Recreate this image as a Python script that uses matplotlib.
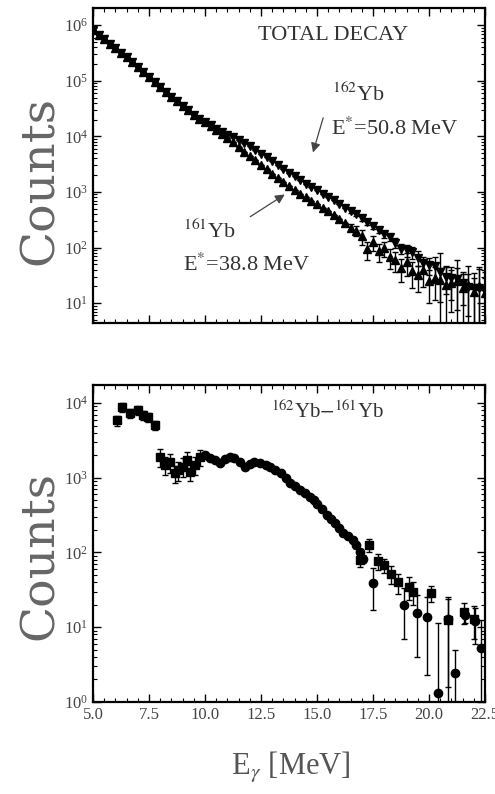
import numpy as np
import matplotlib.pyplot as plt
from matplotlib.ticker import (LogLocator, LogFormatterMathtext, MultipleLocator,
                               NullFormatter, FormatStrFormatter)

plt.rcParams['font.family'] = 'serif'
plt.rcParams['font.serif'] = ['Liberation Serif', 'DejaVu Serif']
plt.rcParams['mathtext.fontset'] = 'stix'

# ---- top panel: total decay spectra (log10 counts) ----
energy_top = [5.00, 5.25, 5.50, 5.75, 6.00, 6.25, 6.50, 6.75, 7.00, 7.25,
              7.50, 7.75, 8.00, 8.25, 8.50, 8.75, 9.00, 9.25, 9.50, 9.75,
              10.00, 10.25, 10.50, 10.75, 11.00, 11.25, 11.50, 11.75, 12.00, 12.25,
              12.50, 12.75, 13.00, 13.25, 13.50, 13.75, 14.00, 14.25, 14.50, 14.75,
              15.00, 15.25, 15.50, 15.75, 16.00, 16.25, 16.50, 16.75, 17.00, 17.25,
              17.50, 17.75, 18.00, 18.25, 18.50, 18.75, 19.00, 19.25, 19.50, 19.75,
              20.00, 20.25, 20.50, 20.75, 21.00, 21.25, 21.50, 21.75, 22.00, 22.25, 22.50]

log_162 = [5.91, 5.83, 5.75, 5.67, 5.59, 5.50, 5.42, 5.33, 5.24, 5.15,
           5.06, 4.97, 4.88, 4.79, 4.71, 4.63, 4.55, 4.47, 4.39, 4.32,
           4.26, 4.20, 4.14, 4.08, 4.03, 3.98, 3.93, 3.88, 3.82, 3.76,
           3.69, 3.62, 3.55, 3.48, 3.41, 3.34, 3.28, 3.21, 3.15, 3.09,
           3.03, 2.97, 2.91, 2.85, 2.79, 2.72, 2.66, 2.60, 2.53, 2.46,
           2.39, 2.31, 2.24, 2.19, 2.09, 1.98, 1.95, 1.92, 1.82, 1.72,
           1.69, 1.66, 1.56, 1.47, 1.45, 1.43, 1.36, 1.29, 1.28, 1.28, 1.22]

log_161 = [5.91, 5.83, 5.75, 5.67, 5.59, 5.50, 5.42, 5.33, 5.24, 5.15,
           5.06, 4.97, 4.88, 4.79, 4.71, 4.63, 4.55, 4.47, 4.39, 4.32,
           4.25, 4.18, 4.11, 4.04, 3.97, 3.90, 3.80, 3.72, 3.64, 3.57,
           3.49, 3.41, 3.33, 3.25, 3.18, 3.11, 3.04, 2.97, 2.91, 2.84,
           2.78, 2.71, 2.65, 2.58, 2.52, 2.44, 2.36, 2.30, 2.20, 1.97,
           2.10, 1.93, 1.99, 1.83, 1.78, 1.64, 1.74, 1.57, 1.50, 1.60,
           1.40, 1.45, 1.42, 1.33, 1.36, 1.40, 1.27, 1.33, 1.20, 1.30, 1.18]

relerr_162 = [0.0] * 46 + [0.08, 0.08, 0.10, 0.10, 0.12, 0.12, 0.15, 0.15, 0.20, 0.20,
                           0.25, 0.25, 0.30, 0.30, 0.35, 0.50, 1.20, 0.50, 0.60, 1.20,
                           0.60, 0.70, 0.80, 1.20, 1.20]
relerr_161 = [0.0] * 46 + [0.15, 0.20, 0.30, 0.35, 0.30, 0.35, 0.30, 0.40, 0.40, 0.45,
                           0.45, 0.50, 0.50, 0.50, 0.60, 0.60, 0.60, 1.20, 0.70, 0.70,
                           0.80, 1.20, 0.80, 1.20, 0.90]

# ---- bottom panel: 162Yb - 161Yb difference ----
sq_energy = [6.07, 6.30, 6.65, 7.00, 7.23, 7.46, 7.77,
             8.00, 8.20, 8.43, 8.66, 8.80, 9.00, 9.20, 9.33, 9.55, 9.78,
             16.90, 17.30, 17.70, 18.00, 18.30, 18.60, 19.10, 19.30, 20.10, 20.85, 21.55, 22.00]
sq_counts = [5900, 8900, 7400, 8100, 6900, 6500, 5100,
             1900, 1480, 1620, 1150, 1260, 1410, 1740, 1200, 1480, 1900,
             79, 126, 76, 68, 52, 40, 35, 30, 29, 12.6, 16, 13]
sq_err = [900, 1200, 1000, 1100, 900, 900, 700,
          500, 400, 450, 300, 350, 400, 450, 300, 400, 450,
          15, 25, 18, 15, 14, 12, 12, 10, 7, 11, 5, 6]

ci_energy = [10.00, 10.20, 10.45, 10.67, 10.90, 11.10, 11.30, 11.56, 11.80, 12.00,
             12.20, 12.45, 12.70, 12.90, 13.10, 13.40, 13.60, 13.80, 14.00, 14.24,
             14.45, 14.70, 14.85, 15.00, 15.20, 15.45, 15.60, 15.80, 16.00, 16.16,
             16.40, 16.60, 16.75, 16.90, 17.05,
             17.50, 18.90, 19.45, 19.90, 20.40, 20.85, 21.15, 21.60, 22.05, 22.30]
ci_counts = [2000, 1820, 1740, 1580, 1780, 1900, 1860, 1620, 1380, 1550,
             1620, 1580, 1480, 1380, 1260, 1150, 1000, 850, 780, 690,
             620, 550, 500, 440, 380, 316, 280, 245, 210, 182,
             166, 148, 126, 100, 83,
             39, 20, 15.5, 13.8, 1.3, 13, 2.4, 14.5, 12, 5.2]
ci_err = [100, 90, 90, 80, 90, 95, 90, 80, 70, 80,
          80, 80, 75, 70, 65, 60, 50, 45, 40, 35,
          32, 28, 26, 23, 20, 18, 16, 15, 14, 13,
          13, 12, 12, 11, 10,
          22, 13, 11.5, 11.5, 10.2, 12.5, 2.5, 3, 6, 7.3]

x_ticks = [5.0, 7.5, 10.0, 12.5, 15.0, 17.5, 20.0, 22.5]

counts_162 = 10 ** np.array(log_162)
counts_161 = 10 ** np.array(log_161)

fig = plt.figure(figsize=(4.95, 7.94), dpi=100)
ax1 = fig.add_axes([0.188, 0.593, 0.792, 0.397])
ax2 = fig.add_axes([0.188, 0.116, 0.792, 0.399])

ebar = dict(color='black', elinewidth=1.0, capsize=2, capthick=1.0, linestyle='none')
ax1.errorbar(energy_top, counts_161, yerr=counts_161 * np.array(relerr_161),
             fmt='^', ms=5.5, **ebar)
ax1.errorbar(energy_top, counts_162, yerr=counts_162 * np.array(relerr_162),
             fmt='v', ms=5.5, **ebar)

ax2.errorbar(sq_energy, sq_counts, yerr=sq_err, fmt='s', ms=5.5, **ebar)
ax2.errorbar(ci_energy, ci_counts, yerr=ci_err, fmt='o', ms=6, **ebar)

for ax in (ax1, ax2):
    ax.set_yscale('log')
    ax.set_xlim(5.0, 22.5)
    ax.set_xticks(x_ticks)
    ax.xaxis.set_minor_locator(MultipleLocator(0.5))
    ax.yaxis.set_major_locator(LogLocator(base=10))
    ax.yaxis.set_minor_locator(LogLocator(base=10, subs=np.arange(2, 10)))
    ax.yaxis.set_minor_formatter(NullFormatter())
    ax.yaxis.set_major_formatter(LogFormatterMathtext())
    ax.tick_params(which='both', direction='in', top=True, right=True,
                   labelsize=12, labelcolor='#444444')
    ax.tick_params(which='major', length=6, width=1)
    ax.tick_params(which='minor', length=3, width=0.8)
    for sp in ax.spines.values():
        sp.set_linewidth(1.6)

ax1.set_ylim(10 ** 0.64, 10 ** 6.31)
ax1.tick_params(axis='x', labelbottom=False)
ax2.set_ylim(1, 10 ** 4.24)
ax2.xaxis.set_major_formatter(FormatStrFormatter('%.1f'))

# annotations
ax1.text(0.612, 0.914, 'TOTAL DECAY', transform=ax1.transAxes, ha='center',
         va='center', fontsize=16, color='#333333')
ax1.text(0.61, 0.727, r'$^{162}$Yb', transform=ax1.transAxes, ha='left',
         va='center', fontsize=16, color='#333333')
ax1.text(0.607, 0.616, r'E$^{*}$=50.8 MeV', transform=ax1.transAxes, ha='left',
         va='center', fontsize=16, color='#333333')
ax1.text(0.23, 0.292, r'$^{161}$Yb', transform=ax1.transAxes, ha='left',
         va='center', fontsize=16, color='#333333')
ax1.text(0.23, 0.184, r'E$^{*}$=38.8 MeV', transform=ax1.transAxes, ha='left',
         va='center', fontsize=16, color='#333333')
arrow = dict(arrowstyle='-|>', color='#444444', lw=0.9, mutation_scale=14)
ax1.annotate('', xy=(0.559, 0.533), xytext=(0.589, 0.660),
             xycoords='axes fraction', textcoords='axes fraction', arrowprops=arrow)
ax1.annotate('', xy=(0.495, 0.413), xytext=(0.395, 0.333),
             xycoords='axes fraction', textcoords='axes fraction', arrowprops=arrow)

ax2.text(0.597, 0.915, r'$^{162}$Yb$-^{161}$Yb', transform=ax2.transAxes,
         ha='center', va='center', fontsize=15, color='#333333')

fig.text(0.081, 0.773, 'Counts', rotation=90, ha='center', va='center',
         fontsize=34, family='DejaVu Serif', color='#666666')
fig.text(0.081, 0.300, 'Counts', rotation=90, ha='center', va='center',
         fontsize=34, family='DejaVu Serif', color='#666666')
fig.text(0.588, 0.034, r'E$_{\gamma}$ [MeV]', ha='center', va='center',
         fontsize=22, color='#555555')

fig.savefig('out.png', dpi=100)
